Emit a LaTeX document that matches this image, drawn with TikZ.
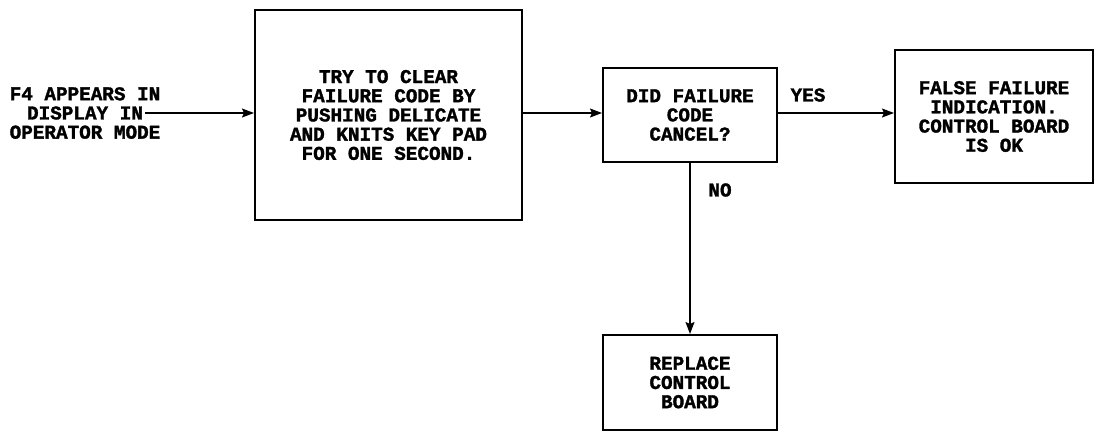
\documentclass[tikz,border=0pt]{standalone}
\usepackage{fontspec}
\newfontfamily\dm{Liberation Mono}[FakeStretch=0.99, FakeBold=1.6]
\usetikzlibrary{arrows.meta}
\begin{document}
\begin{tikzpicture}[x=1pt,y=-1pt,
  txt/.style={inner sep=0pt, align=center, font=\dm\bfseries\fontsize{19.5}{19.2}\selectfont},
  box/.style={draw, line width=2pt, inner sep=0pt, align=center, font=\dm\bfseries\fontsize{19.5}{19.2}\selectfont},
  arr/.style={line width=1.4pt, -{Stealth[length=12pt,width=9pt,inset=2pt]}}]
\useasboundingbox (0,0) rectangle (1096,433);
\node[txt] (start) at (85,113) {F4 APPEARS IN\\DISPLAY IN\\OPERATOR MODE};
\coordinate (inEnd) at (145,113);
\node[box, minimum width=267pt, minimum height=210pt] (box1) at (388.5,115)
  {TRY TO CLEAR\\FAILURE CODE BY\\PUSHING DELICATE\\AND KNITS KEY PAD\\FOR ONE SECOND.};
\node[box, minimum width=174pt, minimum height=94pt] (box2) at (690,115)
  {DID FAILURE\\CODE\\CANCEL?};
\node[box, minimum width=198pt, minimum height=133pt] (box3) at (994,116.5)
  {FALSE FAILURE\\INDICATION.\\CONTROL BOARD\\IS OK};
\node[box, minimum width=174pt, minimum height=95pt] (box4) at (690,382.5)
  {REPLACE\\CONTROL\\BOARD};
\draw[arr] (inEnd) -- (box1.west|-start);
\draw[arr] (box1.east|-start) -- (box2.west|-start);
\draw[arr] (box2.east|-start) -- (box3.west|-start);
\draw[arr] (box2.south) -- (box4.north);
\node[txt] (yes) at (808,95) {YES};
\node[txt] (no) at (720,190) {NO};
\end{tikzpicture}
\end{document}
